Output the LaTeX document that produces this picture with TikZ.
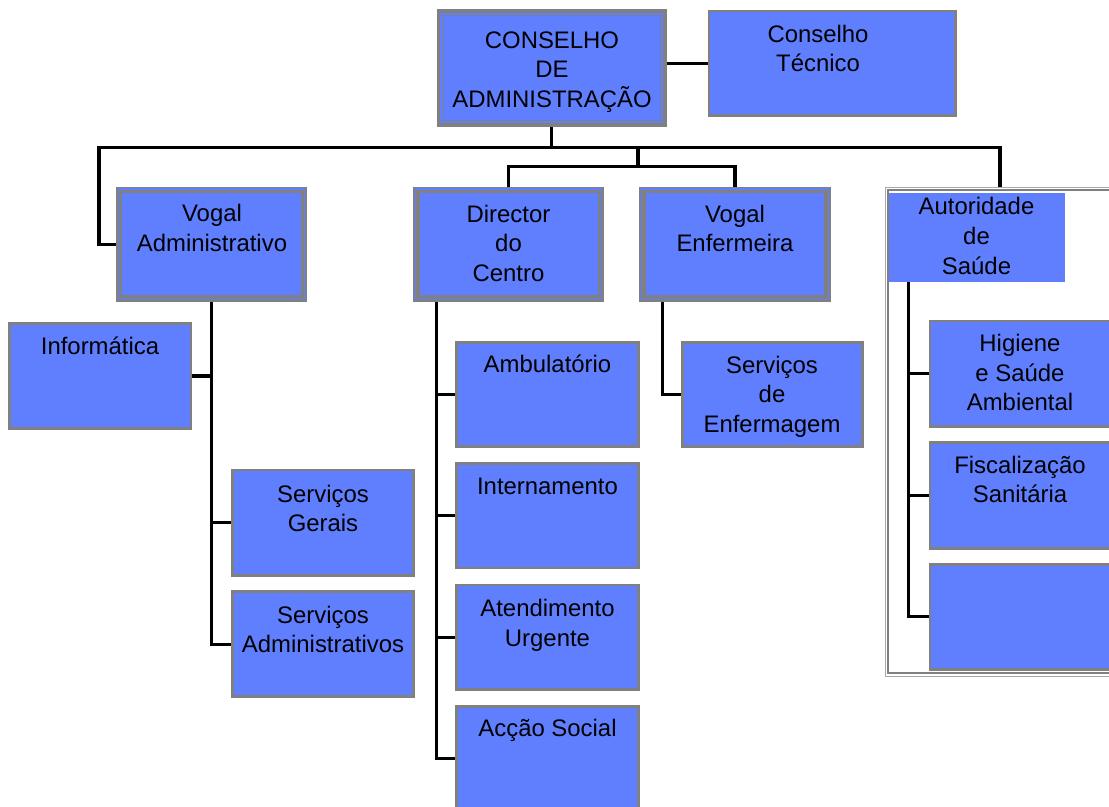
\documentclass[tikz,border=0pt]{standalone}
\usepackage{fontspec}
\setmainfont{Liberation Sans}
\definecolor{BoxBlue}{HTML}{5F7FFF}
\definecolor{EdgeGray}{HTML}{808080}
\definecolor{FrameGray}{HTML}{A8A8A8}
\usetikzlibrary{fit, backgrounds}
\begin{document}
\begin{tikzpicture}[x=0.025cm, y=-0.025cm,
  box/.style={draw=EdgeGray, line width=1.9pt, fill=BoxBlue, inner sep=0pt},
  inset/.style 2 args={path picture={\draw[EdgeGray, line width=#2] ([shift={(#1,-#1)}]path picture bounding box.north west) rectangle ([shift={(-#1,#1)}]path picture bounding box.south east);}},
  topbox/.style={box, line width=2.8pt, inset={3.3pt}{0.85pt}},
  headbox/.style={box, line width=1.4pt, inset={2.7pt}{2.4pt}},
  framebox/.style={draw=FrameGray, line width=0.7pt, inner sep=0pt, inset={2.1pt}{1.4pt}},
  lbl/.style={anchor=base, align=center, inner sep=0pt, font=\fontsize{17}{21}\selectfont},
  conn/.style={draw=black, line width=2.2pt}
]
\useasboundingbox (0,0) rectangle (1109,807);
\clip (0,0) rectangle (1109,807);
\node[topbox, fit={(438.5,11) (665,125.3)}] (ca) {};
\node[box, fit={(709,11) (955.5,115.5)}] (ct) {};
\node[headbox, fit={(117,187.5) (306.3,300.7)}] (va) {};
\node[headbox, fit={(414.3,187.5) (603,300.7)}] (dc) {};
\node[headbox, fit={(640.3,187.5) (829.7,300.7)}] (ve) {};
\node[framebox, fit={(885.2,187.2) (1125,676.2)}] (grp) {};
\node[fill=BoxBlue, inner sep=0pt, fit={(889,192.7) (1065,281.7)}] (aut) {};
\node[box, fit={(9.7,323.7) (191,428.3)}] (inf) {};
\node[box, fit={(232.7,470) (413.3,575.7)}] (sg) {};
\node[box, fit={(232.7,591.7) (413.3,696.7)}] (sa) {};
\node[box, fit={(456.7,342.3) (638.3,446.7)}] (amb) {};
\node[box, fit={(456.7,463.6) (638.3,568)}] (intn) {};
\node[box, fit={(456.7,585) (638.3,689.5)}] (atd) {};
\node[box, fit={(456.7,706.3) (638.3,810)}] (acs) {};
\node[box, fit={(682.3,342.3) (862.7,446.7)}] (sde) {};
\node[box, fit={(930,321) (1120,426.7)}] (hig) {};
\node[box, fit={(930,442.7) (1120,548.3)}] (fis) {};
\node[box, fit={(930,564.3) (1120,669.3)}] (emp) {};
\node[lbl] (ca-t) at (552,107.5) {CONSELHO\\DE\\ADMINISTRAÇÃO};
\node[lbl] (ct-t) at (818,72) {Conselho\\Técnico};
\node[lbl] (va-t) at (212,251.2) {Vogal\\Administrativo};
\node[lbl] (dc-t) at (508.5,281.3) {Director\\do\\Centro};
\node[lbl] (ve-t) at (735,251.8) {Vogal\\Enfermeira};
\node[lbl] (aut-t) at (976.5,274) {Autoridade\\de\\Saúde};
\node[lbl] (inf-t) at (100,354) {Informática};
\node[lbl] (sg-t) at (323,531.8) {Serviços\\Gerais};
\node[lbl] (sa-t) at (323,652.8) {Serviços\\Administrativos};
\node[lbl] (amb-t) at (547.5,372.5) {Ambulatório};
\node[lbl] (intn-t) at (547.5,494.5) {Internamento};
\node[lbl] (atd-t) at (547.5,646) {Atendimento\\Urgente};
\node[lbl] (acs-t) at (547.5,736) {Acção Social};
\node[lbl] (sde-t) at (772,432.3) {Serviços\\de\\Enfermagem};
\node[lbl] (hig-t) at (1020,410.7) {Higiene\\e Saúde\\Ambiental};
\node[lbl] (fis-t) at (1020,502.8) {Fiscalização\\Sanitária};
\begin{scope}[on background layer]
\coordinate (bw) at (99,147.7);
\coordinate (be) at (1000,147.7);
\coordinate (bm) at (638,147.7);
\coordinate (bs) at (638,166.7);
\coordinate (dct) at (436.5,300.7);
\coordinate (vet) at (662.5,300.7);
\coordinate (autt) at (908.7,281.7);
\draw[conn] (ca.south) -- (ca.south |- bw);
\draw[conn] (va.west) -| (bw) -- (be) -- (be |- grp.north);
\draw[conn] (bm) -- (bs);
\draw[conn] (dc.north) |- (bs) -| (ve.north);
\draw[conn] (ca.east |- ct.west) -- (ct.west);
\draw[conn] (va.south) |- (sa.west);
\draw[conn] (va.south |- inf.east) -- (inf.east);
\draw[conn] (va.south |- sg.west) -- (sg.west);
\draw[conn] (dct) |- (acs.west);
\foreach \n in {amb,intn,atd} \draw[conn] (dct |- \n.west) -- (\n.west);
\draw[conn] (vet) |- (sde.west);
\draw[conn] (autt) |- (emp.west);
\foreach \n in {hig,fis} \draw[conn] (autt |- \n.west) -- (\n.west);
\end{scope}
\end{tikzpicture}
\end{document}
